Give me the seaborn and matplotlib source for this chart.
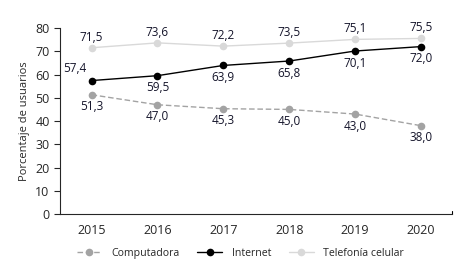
import seaborn as sns
import pandas as pd
import matplotlib.pyplot as plt

years = [2015, 2016, 2017, 2018, 2019, 2020]
computadora = [51.3, 47.0, 45.3, 45.0, 43.0, 38.0]
internet = [57.4, 59.5, 63.9, 65.8, 70.1, 72.0]
telefonia = [71.5, 73.6, 72.2, 73.5, 75.1, 75.5]

series = ["Computadora", "Internet", "Telefonía celular"]
colors = ["#a3a3a3", "#000000", "#d9d9d9"]

df = pd.concat([
    pd.DataFrame({"year": years, "valor": vals, "serie": name})
    for name, vals in zip(series, [computadora, internet, telefonia])
])

sns.set_style("ticks")
plt.rcParams["font.family"] = ["Open Sans", "DejaVu Sans"]

fig = plt.figure(figsize=(4.65, 2.69), dpi=100)
ax = fig.add_axes([0.129, 0.204, 0.843, 0.692])

sns.lineplot(data=df, x="year", y="valor", hue="serie", style="serie",
             palette=dict(zip(series, colors)),
             dashes={"Computadora": (4, 2), "Internet": "", "Telefonía celular": ""},
             markers={s: "o" for s in series}, markersize=5.5, markeredgewidth=0,
             linewidth=1.0, ax=ax)

txt = "#14142a"
fs = 8.5
fmt = lambda v: f"{v:.1f}".replace(".", ",")
for x, v in zip(years, computadora):
    ax.annotate(fmt(v), (x, v), xytext=(0, -4), textcoords="offset points",
                ha="center", va="top", fontsize=fs, color=txt)
for i, (x, v) in enumerate(zip(years, internet)):
    if i == 0:
        ax.annotate(fmt(v), (x, v), xytext=(-12, 4), textcoords="offset points",
                    ha="center", va="bottom", fontsize=fs, color=txt)
    else:
        ax.annotate(fmt(v), (x, v), xytext=(0, -4), textcoords="offset points",
                    ha="center", va="top", fontsize=fs, color=txt)
for x, v in zip(years, telefonia):
    ax.annotate(fmt(v), (x, v), xytext=(0, 3), textcoords="offset points",
                ha="center", va="bottom", fontsize=fs, color=txt)

ax.set_xlim(2014.52, 2020.47)
ax.set_ylim(0, 80)
ax.set_yticks(range(0, 81, 10))
ax.set_xticks(years)
ax.tick_params(axis="x", length=0, labelsize=9, pad=7)
ax.tick_params(axis="y", length=4, width=0.8, labelsize=9, direction="out")
ax.set_xlabel("")
ax.set_ylabel("Porcentaje de usuarios", fontsize=8)
sns.despine(ax=ax)
for s in ["left", "bottom"]:
    ax.spines[s].set_linewidth(0.8)
# small end mark on the x axis
ax.plot([1, 1], [0, 0.015], transform=ax.transAxes, color="black",
        linewidth=0.8, clip_on=False)

ax.legend(loc="upper center", bbox_to_anchor=(0.46, -0.13), ncol=3, frameon=False,
          fontsize=7.6, handlelength=2.35, columnspacing=1.7, handletextpad=0.9)

fig.savefig("out.png", dpi=100)
